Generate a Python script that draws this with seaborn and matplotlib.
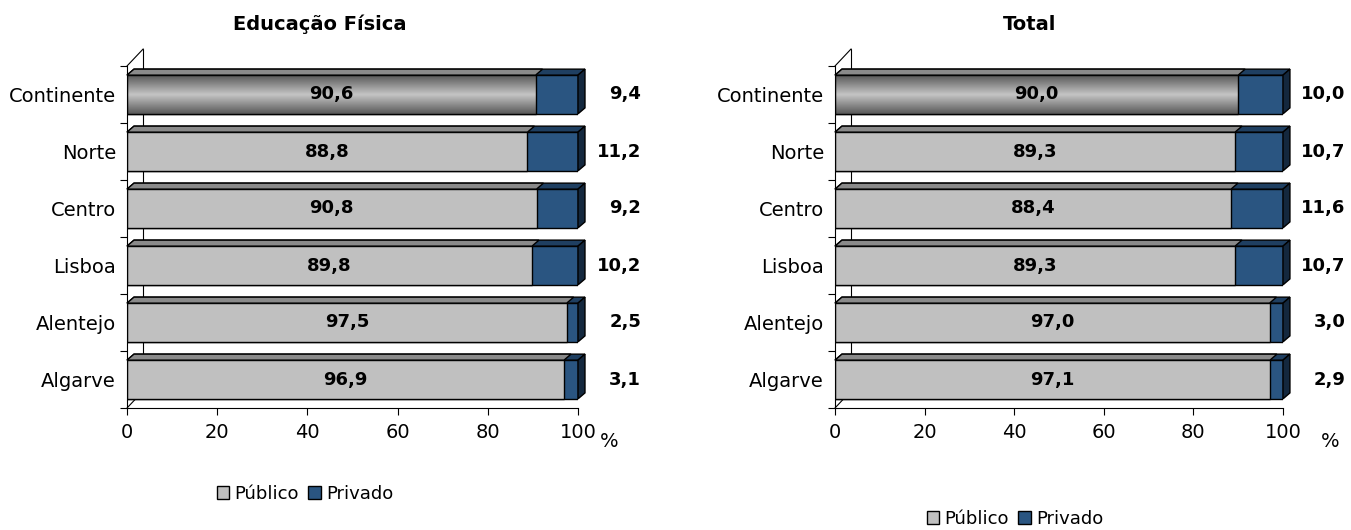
import numpy as np
import pandas as pd
import matplotlib
matplotlib.use("Agg")
import matplotlib.pyplot as plt
import seaborn as sns
from matplotlib.patches import Polygon, Patch

regions = ["Continente", "Norte", "Centro", "Lisboa", "Alentejo", "Algarve"]
ef_publico = [90.6, 88.8, 90.8, 89.8, 97.5, 96.9]
ef_privado = [9.4, 11.2, 9.2, 10.2, 2.5, 3.1]
tot_publico = [90.0, 89.3, 88.4, 89.3, 97.0, 97.1]
tot_privado = [10.0, 10.7, 11.6, 10.7, 3.0, 2.9]
titles = ["Educação Física", "Total"]
series_names = ["Público", "Privado"]

gray = "#c0c0c0"
blue = "#2a5581"
gray_top = "#8a8a8a"
blue_top = "#1f3f61"
blue_side = "#14283e"

sns.set_theme(style="white")
plt.rcParams["font.family"] = ["DejaVu Sans"]
plt.rcParams["text.color"] = "black"
plt.rcParams["xtick.color"] = "black"
plt.rcParams["ytick.color"] = "black"

fig = plt.figure(figsize=(13.51, 5.30), dpi=100)
ax_left = fig.add_axes([127 / 1351, 1 - 408 / 530, 451 / 1351, 342 / 530])
ax_right = fig.add_axes([835 / 1351, 1 - 408 / 530, 448 / 1351, 342 / 530])


def fmt(v):
    return f"{v:.1f}".replace(".", ",")


def draw_panel(ax, publico, privado):
    df = pd.DataFrame({"regiao": regions, "publico": publico, "privado": privado})
    df["total"] = df["publico"] + df["privado"]

    sns.barplot(data=df, y="regiao", x="total", orient="h", color=blue, saturation=1,
                edgecolor="black", linewidth=1, width=0.68, ax=ax)
    n_priv = len(ax.patches)
    sns.barplot(data=df, y="regiao", x="publico", orient="h", color=gray, saturation=1,
                edgecolor="black", linewidth=1, width=0.68, ax=ax)
    priv_bars = ax.patches[:n_priv]
    pub_bars = ax.patches[n_priv:]

    ax.set_xlim(0, 100)
    ax.set_ylim(5.5, -0.5)

    # pseudo 3D faces
    dx, dy = 1.55, -0.105
    for bars, top_c in [(priv_bars, blue_top), (pub_bars, gray_top)]:
        for p in bars:
            x0, y0, w, h = p.get_x(), p.get_y(), p.get_width(), p.get_height()
            yt = min(y0, y0 + h)
            yb = max(y0, y0 + h)
            top = Polygon([(x0, yt), (x0 + w, yt), (x0 + w + dx, yt + dy), (x0 + dx, yt + dy)],
                          closed=True, facecolor=top_c, edgecolor="black", linewidth=1,
                          clip_on=False, zorder=3)
            ax.add_patch(top)
            if top_c == blue_top:
                side = Polygon([(x0 + w, yt), (x0 + w + dx, yt + dy), (x0 + w + dx, yb + dy), (x0 + w, yb)],
                               closed=True, facecolor=blue_side, edgecolor="black", linewidth=1,
                               clip_on=False, zorder=3)
                ax.add_patch(side)

    # gradient on first gray bar (darker at top and bottom)
    p = pub_bars[0]
    x0, y0, w, h = p.get_x(), p.get_y(), p.get_width(), p.get_height()
    t = np.linspace(0, 1, 64)
    shade = 0.77 - 0.42 * np.abs(t - 0.5) / 0.5
    img = ax.imshow(shade[:, None], cmap="gray", vmin=0, vmax=1, aspect="auto",
                    extent=(x0, x0 + w, max(y0, y0 + h), min(y0, y0 + h)),
                    zorder=p.get_zorder() + 0.05, interpolation="bilinear")
    img.set_clip_path(p)
    p.set_facecolor("none")
    p.set_zorder(p.get_zorder() + 0.1)
    ax.set_xlim(0, 100)
    ax.set_ylim(5.5, -0.5)

    # back wall
    wx, wy = 3.6, -0.3
    wall_kw = dict(color="black", linewidth=0.8, clip_on=False, zorder=0.5)
    ax.plot([0, wx], [-0.5, -0.5 + wy], **wall_kw)
    ax.plot([0, wx], [5.5, 5.5 + wy], **wall_kw)
    ax.plot([wx, wx], [-0.5 + wy, 5.5 + wy], **wall_kw)

    for i, (pu, pr) in enumerate(zip(publico, privado)):
        ax.text(pu / 2, i, fmt(pu), ha="center", va="center", fontsize=13,
                fontweight="bold", color="black", zorder=5)
        ax.text(114, i, fmt(pr), ha="right", va="center", fontsize=13,
                fontweight="bold", color="black", clip_on=False)

    ax.set_xlabel("")
    ax.set_ylabel("")
    ax.set_xticks([0, 20, 40, 60, 80, 100])
    ax.set_yticks(np.arange(-0.5, 6, 1), minor=True)
    ax.tick_params(axis="y", which="major", length=0, labelsize=14, pad=8)
    ax.tick_params(axis="y", which="minor", left=True, length=5, width=0.8, color="black")
    ax.tick_params(axis="x", bottom=True, length=5, width=0.8, color="black", labelsize=14, pad=6)
    for s in ["top", "right"]:
        ax.spines[s].set_visible(False)
    for s in ["left", "bottom"]:
        ax.spines[s].set_color("black")
        ax.spines[s].set_linewidth(0.8)
    ax.set_facecolor("white")


draw_panel(ax_left, ef_publico, ef_privado)
draw_panel(ax_right, tot_publico, tot_privado)

ax_left.text(1.049, -0.07, "%", transform=ax_left.transAxes, ha="left", va="top", fontsize=14)
ax_right.text(1.085, -0.07, "%", transform=ax_right.transAxes, ha="left", va="top", fontsize=14)

fig.text(320 / 1351, 1 - 24 / 530, titles[0], ha="center", va="center", fontsize=14, fontweight="bold")
fig.text(1030 / 1351, 1 - 24 / 530, titles[1], ha="center", va="center", fontsize=14, fontweight="bold")

handles = [Patch(facecolor=gray, edgecolor="black", linewidth=1),
           Patch(facecolor=blue, edgecolor="black", linewidth=1)]
for cx, cy in [(305, 494), (1015, 519)]:
    fig.legend(handles=handles, labels=series_names, loc="center",
               bbox_to_anchor=(cx / 1351, 1 - cy / 530), ncol=2, frameon=False,
               handlelength=0.7, handleheight=0.7, handletextpad=0.3,
               columnspacing=0.5, fontsize=13)

fig.savefig("out.png", dpi=100, facecolor="white")
